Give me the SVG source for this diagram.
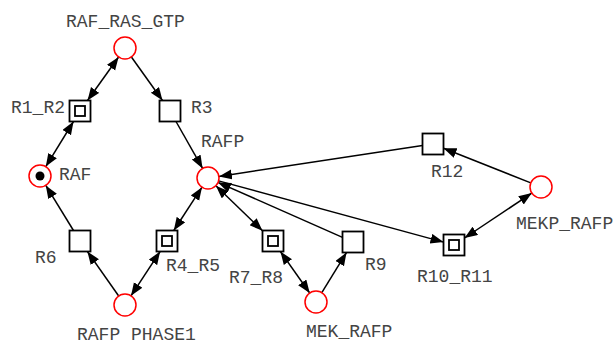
<svg xmlns="http://www.w3.org/2000/svg" width="613" height="344" viewBox="0 0 613 344">
<style>
.p{fill:#fff;stroke:#f00;stroke-width:1.5}
.t{fill:#fff;stroke:#000;stroke-width:1.8}
.e{stroke:#000;stroke-width:1.5;fill:none}
.a{marker-end:url(#ah)}
.b{marker-start:url(#ah);marker-end:url(#ah)}
text{font-family:"Liberation Mono","DejaVu Sans Mono",monospace;font-size:18px;fill:#444}
</style>
<defs>
<marker id="ah" markerUnits="userSpaceOnUse" markerWidth="14" markerHeight="11" refX="13" refY="5" orient="auto-start-reverse" viewBox="0 0 14 11">
<path d="M0,0 L13,5 L0,10 z" fill="#000"/>
</marker>
</defs>
<rect width="613" height="344" fill="#fff"/>
<g id="connectors">
<line class="e b" x1="118.6" y1="57" x2="87.5" y2="100.5"/>
<line class="e a" x1="131.4" y1="57" x2="162.5" y2="100.5"/>
<line class="e b" x1="73.5" y1="121.5" x2="45.8" y2="166.6"/>
<line class="e a" x1="176" y1="121.5" x2="202.6" y2="168.4"/>
<line class="e a" x1="73.5" y1="230.5" x2="45.8" y2="185.4"/>
<line class="e a" x1="118.7" y1="296" x2="87.4" y2="251.5"/>
<line class="e b" x1="131" y1="295.8" x2="160.1" y2="251.5"/>
<line class="e b" x1="173.8" y1="230.5" x2="202" y2="187.2"/>
<line class="e b" x1="215.9" y1="185.7" x2="262.5" y2="230.8"/>
<line class="e b" x1="280.4" y1="251.5" x2="309.7" y2="293"/>
<line class="e a" x1="321.8" y1="292.6" x2="346.5" y2="252.5"/>
<line class="e a" x1="342.5" y1="237.4" x2="218" y2="182.4"/>
<line class="e a" x1="422.5" y1="145.6" x2="218.9" y2="176.4"/>
<line class="e a" x1="218.6" y1="180.9" x2="443.5" y2="242.1"/>
<line class="e a" x1="530.8" y1="182.9" x2="443.5" y2="148.2"/>
<line class="e b" x1="531.8" y1="193.1" x2="464.5" y2="238"/>
</g>
<g id="RAF_RAS_GTP"><circle class="p" cx="125" cy="48" r="11"/><text x="66" y="27">RAF_RAS_GTP</text></g>
<g id="RAF"><circle class="p" cx="40" cy="176" r="11"/><circle cx="40" cy="176" r="4.5" fill="#000"/><text x="59" y="180">RAF</text></g>
<g id="RAFP"><circle class="p" cx="208" cy="178" r="11"/><text x="201" y="147">RAFP</text></g>
<g id="RAFP_PHASE1"><circle class="p" cx="125" cy="305" r="11"/><text x="77" y="340">RAFP PHASE1</text></g>
<g id="MEK_RAFP"><circle class="p" cx="316" cy="302" r="11"/><text x="306" y="337">MEK_RAFP</text></g>
<g id="MEKP_RAFP"><circle class="p" cx="541" cy="187" r="11"/><text x="516" y="229">MEKP_RAFP</text></g>
<g id="R1_R2"><rect class="t" x="69.5" y="100.5" width="21" height="21"/><rect class="t" x="75" y="106" width="10" height="10"/><text x="11" y="113">R1_R2</text></g>
<g id="R3"><rect class="t" x="159.5" y="100.5" width="21" height="21"/><text x="191" y="113">R3</text></g>
<g id="R6"><rect class="t" x="69.5" y="230.5" width="21" height="21"/><text x="35" y="263">R6</text></g>
<g id="R4_R5"><rect class="t" x="156.5" y="230.5" width="21" height="21"/><rect class="t" x="162" y="236" width="10" height="10"/><text x="166" y="271">R4_R5</text></g>
<g id="R7_R8"><rect class="t" x="262.5" y="230.5" width="21" height="21"/><rect class="t" x="268" y="236" width="10" height="10"/><text x="229" y="283">R7_R8</text></g>
<g id="R9"><rect class="t" x="342.5" y="231.5" width="21" height="21"/><text x="365" y="270">R9</text></g>
<g id="R12"><rect class="t" x="422.5" y="133.5" width="21" height="21"/><text x="431" y="177">R12</text></g>
<g id="R10_R11"><rect class="t" x="443.5" y="234.5" width="21" height="21"/><rect class="t" x="449" y="240" width="10" height="10"/><text x="417" y="282">R10_R11</text></g>
</svg>
